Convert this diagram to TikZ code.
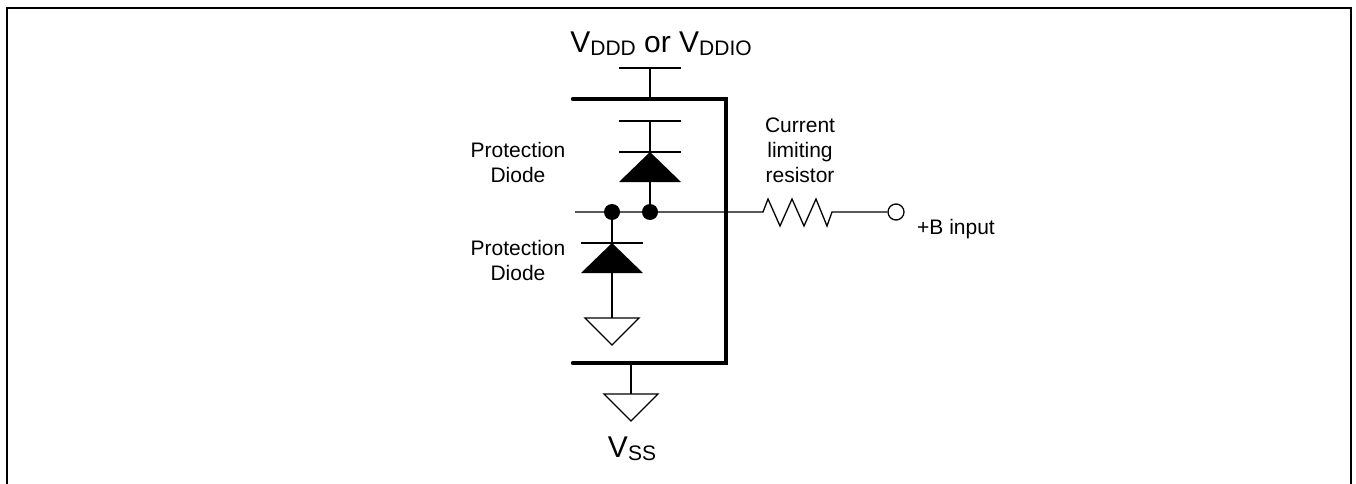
\documentclass[tikz,border=0pt]{standalone}
\usepackage{fontspec}
\setmainfont{Liberation Sans}
\begin{document}
\begin{tikzpicture}[x=1pt,y=-1pt,
  wire/.style={line width=1.3pt},
  bus/.style={line width=4.5pt,line cap=round,line join=miter},
  frame/.style={line width=2.6pt},
  lbl/.style={font=\fontsize{21}{25}\selectfont,align=center,inner sep=0pt},
  big/.style={font=\fontsize{30}{36}\selectfont,inner sep=0pt},
  dot/.style={circle,fill=black,minimum size=16pt,inner sep=0pt},
  term/.style={circle,draw,line width=1.3pt,fill=white,minimum size=16pt,inner sep=0pt}]
\useasboundingbox (0,0) rectangle (1356,484);
% frame
\draw[frame] (7,486) -- (7,8) -- (1351,8) -- (1351,486);
% coordinates
\coordinate (topbar) at (650,68);
\coordinate (busTL) at (573,99);
\coordinate (busTR) at (726,99);
\coordinate (busBL) at (573,363);
\coordinate (busBR) at (726,363);
\coordinate (busTop) at (650,99);
\coordinate (d1top) at (650,121);
\coordinate (d1k) at (650,152);
\coordinate (d1a) at (650,182);
\coordinate (d2k) at (612,243);
\coordinate (d2a) at (612,273);
\coordinate (g1) at (612,318);
\coordinate (wL) at (575,212);
\coordinate (rL) at (763,212);
\coordinate (rR) at (832,212);
\coordinate (stem) at (631,363);
\coordinate (g2) at (631,394);
% buses
\draw[bus] (busTL) -- (busTR) -- (busBR) -- (busBL);
% supply symbol
\draw[wire] ([xshift=-31pt]topbar) -- ([xshift=31pt]topbar);
\draw[wire] (topbar) -- (busTop);
% upper diode
\draw[wire] ([xshift=-31pt]d1top) -- ([xshift=31pt]d1top);
\draw[wire] (d1top) -- (d1k);
\draw[wire] ([xshift=-31pt]d1k) -- ([xshift=31pt]d1k);
\fill (d1k) -- ([xshift=31pt]d1a) -- ([xshift=-31pt]d1a) -- cycle;
\node[dot] (n2) at (650,212) {};
\node[dot] (n1) at (612,212) {};
\draw[wire] (d1a) -- (n2.center);
% lower diode
\draw[wire] (n1.center) -- (d2k);
\draw[wire] ([xshift=-31pt]d2k) -- ([xshift=31pt]d2k);
\fill (d2k) -- ([xshift=31pt]d2a) -- ([xshift=-31pt]d2a) -- cycle;
\draw[wire] (d2a) -- (g1);
\draw[wire,line join=miter] ([xshift=-27pt]g1) -- ([xshift=27pt]g1) -- ([yshift=-27pt]g1) -- cycle;
% horizontal wire + resistor
\node[term] (inp) at (896,212) {};
\draw[wire] (wL) -- (rL) -- (768,199) -- (780,226) -- (792,199) -- (804,226) -- (816,199) -- (827,226) -- (rR) -- (inp.west);
% Vss
\draw[wire] (stem) -- (g2);
\draw[wire,line join=miter] ([xshift=-27pt]g2) -- ([xshift=27pt]g2) -- ([yshift=-27pt]g2) -- cycle;
% labels
\node[big,anchor=base] (vdd) at (661,53) {V\raisebox{-3pt}{\fontsize{21}{21}\selectfont DDD} or V\raisebox{-3pt}{\fontsize{21}{21}\selectfont DDIO}};
\node[big,anchor=base] (vss) at (632,457) {V\raisebox{-3pt}{\fontsize{21}{21}\selectfont SS}};
\node[lbl,anchor=base] (pd1) at (518,182) {Protection\\Diode};
\node[lbl,anchor=base] (pd2) at (518,280) {Protection\\Diode};
\node[lbl,anchor=base] (cur) at (800,182) {Current\\limiting\\resistor};
\node[lbl,anchor=base west] (bin) at (917,234) {+B input};
\end{tikzpicture}
\end{document}
